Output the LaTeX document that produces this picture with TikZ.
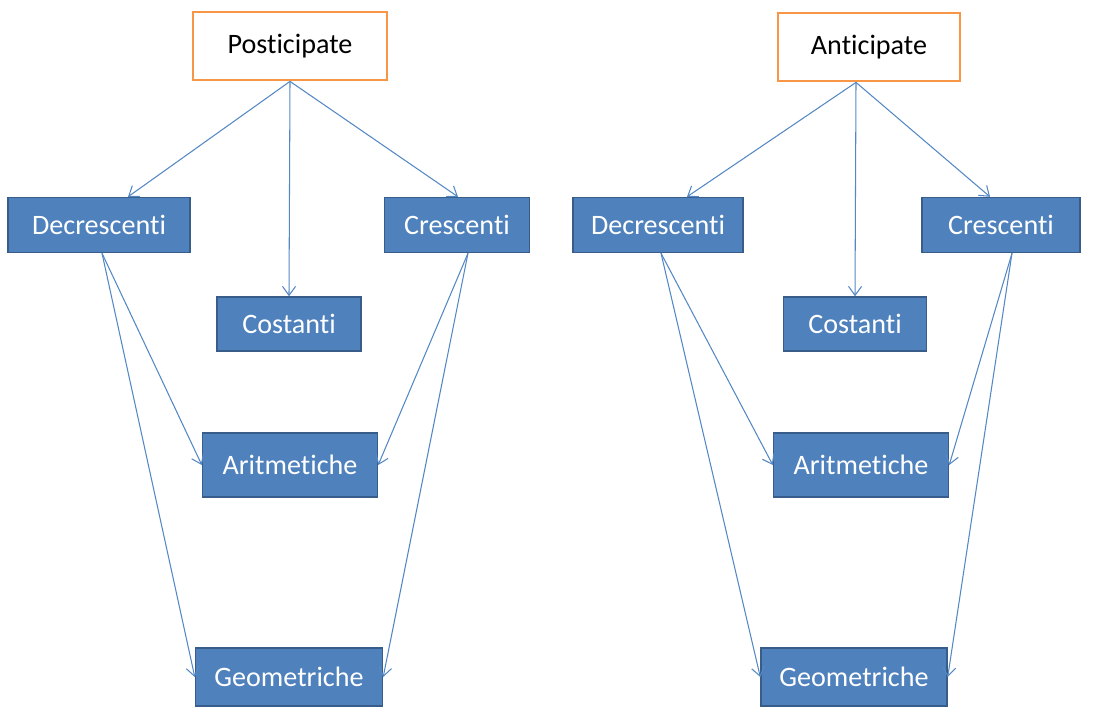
\documentclass[tikz,border=0pt]{standalone}
\usepackage{fontspec}
\setmainfont{Carlito}[Ligatures=NoCommon]
\usetikzlibrary{arrows.meta}

\definecolor{boxblue}{RGB}{79,129,189}
\definecolor{boxedge}{RGB}{56,93,138}
\definecolor{linkblue}{RGB}{84,136,196}
\definecolor{headorange}{RGB}{247,150,70}

\begin{document}
\begin{tikzpicture}[x=0.2mm, y=-0.2mm,
    headbox/.style={draw=headorange, line width=1.6pt, fill=white, text=black,
        minimum height=13.6mm, inner sep=0pt},
    leafbox/.style={draw=boxedge, line width=0.8pt, fill=boxblue, text=white,
        inner sep=0pt},
    link/.style={draw=linkblue, line width=0.6pt,
        -{Straight Barb[length=1.8mm, width=2.6mm]}},
    font=\fontsize{16}{19}\selectfont]
    \useasboundingbox (0,0) rectangle (1114,708);

    % left tree
    \node[headbox, minimum width=38.8mm] (post) at (290,46) {Posticipate};
    \node[leafbox, minimum width=36.4mm, minimum height=11mm] (decL) at (99,225) {Decrescenti};
    \node[leafbox, minimum width=29mm, minimum height=11mm] (creL) at (457,225) {Crescenti};
    \node[leafbox, minimum width=28.8mm, minimum height=10.8mm] (cosL) at (289,324) {Costanti};
    \node[leafbox, minimum width=35mm, minimum height=12.8mm] (ariL) at (290,465) {Aritmetiche};
    \node[leafbox, minimum width=37.4mm, minimum height=11.6mm] (geoL) at (289,677) {Geometriche};

    % right tree
    \node[headbox, minimum width=36.4mm] (ant) at (869,47) {Anticipate};
    \node[leafbox, minimum width=34mm, minimum height=11mm] (decR) at (658,225) {Decrescenti};
    \node[leafbox, minimum width=31.6mm, minimum height=11mm] (creR) at (1001,225) {Crescenti};
    \node[leafbox, minimum width=28.6mm, minimum height=10.8mm] (cosR) at (855,324) {Costanti};
    \node[leafbox, minimum width=35mm, minimum height=12.8mm] (ariR) at (861,465) {Aritmetiche};
    \node[leafbox, minimum width=37.2mm, minimum height=11.6mm] (geoR) at (854,677) {Geometriche};

    \draw[link] (post.south) -- ([xshift=5.8mm]decL.north);
    \draw[link] (post.south) -- (cosL.north);
    \draw[link] (post.south) -- ([xshift=0.2mm]creL.north);
    \draw[link] ([xshift=-2.6mm]ant.south) -- ([xshift=5.8mm]decR.north);
    \draw[link] ([xshift=-2.6mm]ant.south) -- (cosR.north);
    \draw[link] ([xshift=-2.6mm]ant.south) -- ([xshift=-2.2mm]creR.north);

    \foreach \s in {L,R} {
        \draw[link] ([xshift=0.6mm]dec\s.south) -- (ari\s.west);
        \draw[link] ([xshift=0.6mm]dec\s.south) -- (geo\s.west);
        \draw[link] ([xshift=2.2mm]cre\s.south) -- (ari\s.east);
        \draw[link] ([xshift=2.2mm]cre\s.south) -- (geo\s.east);
    }
\end{tikzpicture}
\end{document}
